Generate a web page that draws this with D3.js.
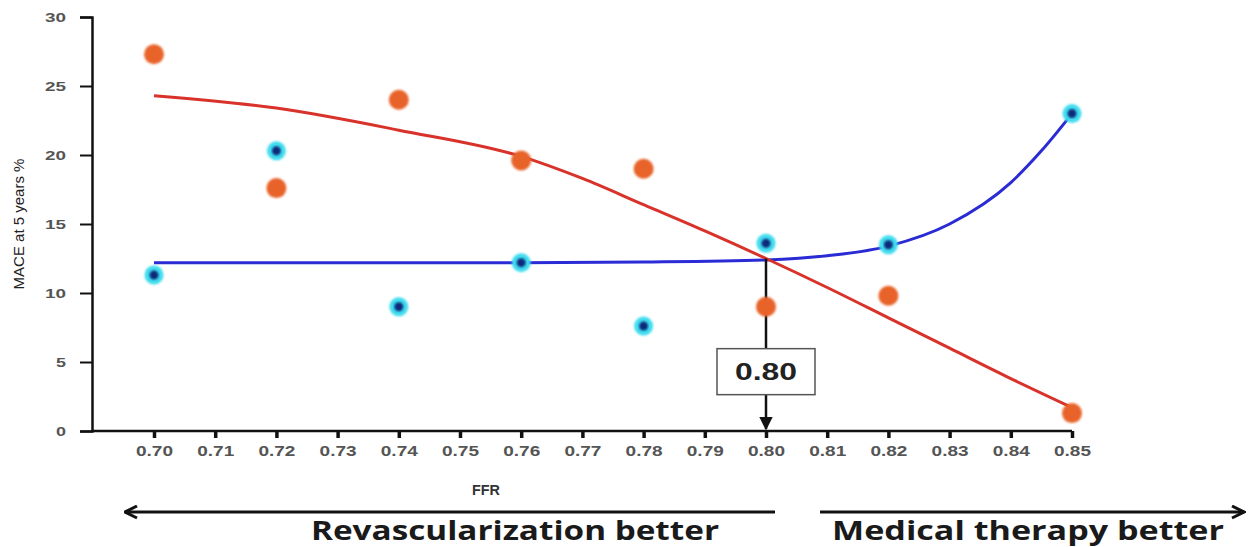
<!DOCTYPE html>
<html>
<head>
<meta charset="utf-8">
<script src="https://cdn.jsdelivr.net/npm/d3@7"></script>
<style>
  body { margin: 0; background: #fff; }
  svg { display: block; }
</style>
</head>
<body>
<svg id="chart" width="1249" height="547"></svg>
<script>
// data
const ffr = [0.70, 0.72, 0.74, 0.76, 0.78, 0.80, 0.82, 0.85];
const revascMace = [27.3, 17.6, 24.0, 19.6, 19.0, 9.0, 9.8, 1.3];
const medicalMace = [11.3, 20.3, 9.0, 12.2, 7.6, 13.6, 13.5, 23.0];

// fitted curves as drawn
const revascFitX = [0.70, 0.72, 0.74, 0.76, 0.77, 0.78, 0.79, 0.80, 0.81, 0.82, 0.83, 0.84, 0.85];
const revascFitY = [24.3, 23.4, 21.8, 19.9, 18.3, 16.4, 14.5, 12.5, 10.4, 8.2, 6.0, 3.8, 1.7];
const medicalFitX = [0.70, 0.72, 0.74, 0.76, 0.78, 0.80, 0.81, 0.82, 0.83, 0.84, 0.845, 0.85];
const medicalFitY = [12.2, 12.2, 12.2, 12.2, 12.25, 12.4, 12.7, 13.4, 15.0, 18.0, 20.3, 23.0];

const xTicks = d3.range(0, 16).map((i) => +(0.70 + i * 0.01).toFixed(2));
const yTicks = [0, 5, 10, 15, 20, 25, 30];
const cutoff = 0.80;
const cutoffY = 12.5;

const svg = d3.select("#chart");

const x = d3.scaleLinear().domain([0.70, 0.85]).range([154, 1072]);
const y = d3.scaleLinear().domain([0, 30]).range([431, 17]);
const axisLeft = 92;

const defs = svg.append("defs");
defs.append("filter").attr("id", "soft")
  .append("feGaussianBlur").attr("stdDeviation", 1.2);
defs.append("marker")
  .attr("id", "head")
  .attr("viewBox", "0 0 10 10")
  .attr("refX", 9).attr("refY", 5)
  .attr("markerWidth", 5).attr("markerHeight", 5)
  .attr("orient", "auto-start-reverse")
  .append("path")
  .attr("d", "M1,1 L9,5 L1,9")
  .attr("fill", "none")
  .attr("stroke", "#111")
  .attr("stroke-width", 2);
defs.append("marker")
  .attr("id", "downHead")
  .attr("viewBox", "0 0 10 10")
  .attr("refX", 9).attr("refY", 5)
  .attr("markerWidth", 5.5).attr("markerHeight", 5.5)
  .attr("orient", "auto")
  .append("path")
  .attr("d", "M0,0 L10,5 L0,10 Z")
  .attr("fill", "#111");

// y axis
const gy = svg.append("g")
  .attr("transform", `translate(${axisLeft},0)`)
  .call(d3.axisLeft(y).tickValues(yTicks).tickSize(12).tickPadding(14));
gy.select(".domain").attr("stroke", "#111").attr("stroke-width", 2.5);
gy.selectAll(".tick line").attr("stroke", "#111").attr("stroke-width", 2);
gy.selectAll(".tick text")
  .attr("fill", "#555")
  .attr("textLength", (d) => (d >= 10 ? 21 : 10))
  .attr("lengthAdjust", "spacingAndGlyphs")
  .style("font", "bold 13px 'Liberation Sans', Arial, sans-serif");

// x axis
const gx = svg.append("g")
  .attr("transform", `translate(0,${y(0)})`)
  .call(d3.axisBottom(x).tickValues(xTicks).tickSize(7).tickPadding(8)
    .tickFormat(d3.format(".2f")));
gx.select(".domain")
  .attr("d", `M${axisLeft},0H${x(0.85)}`)
  .attr("stroke", "#111").attr("stroke-width", 2.5);
gx.selectAll(".tick line").attr("stroke", "#111").attr("stroke-width", 3.5);
gx.selectAll(".tick text")
  .attr("fill", "#555")
  .attr("textLength", 37)
  .attr("lengthAdjust", "spacingAndGlyphs")
  .style("font", "bold 14px 'Liberation Sans', Arial, sans-serif");

// axis titles
svg.append("text")
  .attr("transform", `translate(24,${y(15)}) rotate(-90)`)
  .attr("text-anchor", "middle")
  .attr("fill", "#222")
  .style("font", "15px 'Liberation Sans Narrow', 'Liberation Sans', Arial, sans-serif")
  .text("MACE at 5 years %");
svg.append("text")
  .attr("x", 486).attr("y", 495)
  .attr("text-anchor", "middle")
  .attr("fill", "#333")
  .attr("textLength", 28)
  .attr("lengthAdjust", "spacingAndGlyphs")
  .style("font", "bold 14px 'Liberation Sans', Arial, sans-serif")
  .text("FFR");

// fitted curves
const line = d3.line()
  .x((d) => x(d[0]))
  .y((d) => y(d[1]))
  .curve(d3.curveMonotoneX);
svg.append("path")
  .datum(medicalFitX.map((v, i) => [v, medicalFitY[i]]))
  .attr("d", line)
  .attr("fill", "none")
  .attr("stroke", "#2b2bd6")
  .attr("stroke-width", 3);
svg.append("path")
  .datum(revascFitX.map((v, i) => [v, revascFitY[i]]))
  .attr("d", line)
  .attr("fill", "none")
  .attr("stroke", "#d8322a")
  .attr("stroke-width", 3);

// cutoff arrow and box
svg.append("line")
  .attr("x1", x(cutoff)).attr("x2", x(cutoff))
  .attr("y1", y(cutoffY)).attr("y2", y(0) - 2)
  .attr("stroke", "#111")
  .attr("stroke-width", 2.5)
  .attr("marker-end", "url(#downHead)");
const box = svg.append("g").attr("transform", `translate(${x(cutoff)},${y(4.3)})`);
box.append("rect")
  .attr("x", -49).attr("y", -23)
  .attr("width", 98).attr("height", 46)
  .attr("fill", "#fff")
  .attr("stroke", "#555")
  .attr("stroke-width", 1.5);
box.append("text")
  .attr("text-anchor", "middle")
  .attr("dy", "0.36em")
  .attr("fill", "#222")
  .attr("textLength", 62)
  .attr("lengthAdjust", "spacingAndGlyphs")
  .style("font", "bold 24px 'Liberation Sans', Arial, sans-serif")
  .text(cutoff.toFixed(2));

// data points
const revascPts = ffr.map((v, i) => [v, revascMace[i]]);
const medicalPts = ffr.map((v, i) => [v, medicalMace[i]]);

svg.append("g").selectAll("circle")
  .data(revascPts)
  .join("circle")
  .attr("cx", (d) => x(d[0]))
  .attr("cy", (d) => y(d[1]))
  .attr("r", 10)
  .attr("fill", "#e8632b")
  .attr("filter", "url(#soft)");

const med = svg.append("g");
med.selectAll("circle.outer")
  .data(medicalPts)
  .join("circle")
  .attr("class", "outer")
  .attr("cx", (d) => x(d[0]))
  .attr("cy", (d) => y(d[1]))
  .attr("r", 9.5)
  .attr("fill", "#3fdcef")
  .attr("filter", "url(#soft)");
med.selectAll("circle.inner")
  .data(medicalPts)
  .join("circle")
  .attr("class", "inner")
  .attr("cx", (d) => x(d[0]))
  .attr("cy", (d) => y(d[1]))
  .attr("r", 4.5)
  .attr("fill", "#0b2a7a")
  .attr("filter", "url(#soft)");

// direction arrows under the axis
svg.append("line")
  .attr("x1", 775).attr("x2", 125)
  .attr("y1", 512).attr("y2", 512)
  .attr("stroke", "#111").attr("stroke-width", 3)
  .attr("marker-end", "url(#head)");
svg.append("line")
  .attr("x1", 820).attr("x2", 1244)
  .attr("y1", 512).attr("y2", 512)
  .attr("stroke", "#111").attr("stroke-width", 3)
  .attr("marker-end", "url(#head)");

svg.append("text")
  .attr("x", 515).attr("y", 540)
  .attr("text-anchor", "middle")
  .attr("fill", "#1a1a1a")
  .attr("textLength", 408)
  .attr("lengthAdjust", "spacingAndGlyphs")
  .style("font", "bold 27px 'Open Sans', Lato, sans-serif")
  .text("Revascularization better");
svg.append("text")
  .attr("x", 1028).attr("y", 540)
  .attr("text-anchor", "middle")
  .attr("fill", "#1a1a1a")
  .attr("textLength", 392)
  .attr("lengthAdjust", "spacingAndGlyphs")
  .style("font", "bold 27px 'Open Sans', Lato, sans-serif")
  .text("Medical therapy better");
</script>
</body>
</html>
